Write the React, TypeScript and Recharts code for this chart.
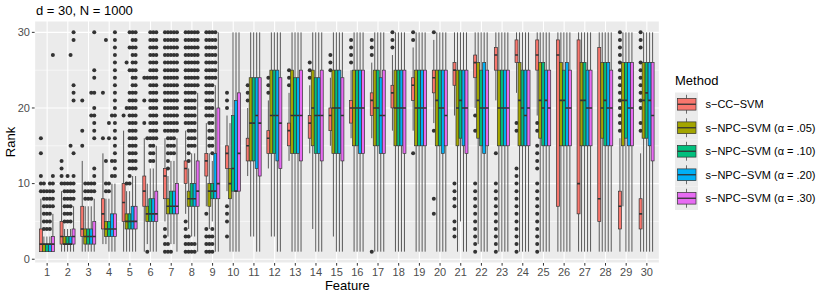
import React from "react";
import { Bar, CartesianGrid, ComposedChart, XAxis, YAxis } from "recharts";

const FEATURES = ["1","2","3","4","5","6","7","8","9","10","11","12","13","14","15","16","17","18","19","20","21","22","23","24","25","26","27","28","29","30"];
const METHODS = ["s−CC−SVM", "s−NPC−SVM (α = .05)", "s−NPC−SVM (α = .10)", "s−NPC−SVM (α = .20)", "s−NPC−SVM (α = .30)"];
const COLORS = ["#F8766D", "#A3A500", "#00BF7D", "#00B0F6", "#E76BF3"];
const FONT = "'Liberation Sans', Arial, sans-serif";

// [lower whisker, q1, median, q3, upper whisker] per feature
const CC_SVM = [
  [1,1,2,4,8],[1,2,3,5,9],[1,3,4,7,13],[2,4,6,8,14],[1,5,7.5,10,17],[1,7,9,11,16],
  [5,8,11,12,16],[6,10,12,13,17],[7,11,13,14,18],[9,12,14,15,19],[11,13,15,16,20],[12,14,16,17,21],
  [13,15,17,18,22],[14,16,18,19,23],[15,17,19,20,24],[16,18,20,21,25],[16,19,21,22,26],[17,20,22,23,27],
  [17,21,23,24,28],[18,22,24,25,29],[19,23,25,26,30],[20,24,26,27,30],[21,25,27,28,30],[22,26,27,29,30],
  [19,25,27,29,30],[1,7,27,29,30],[1,6,10,29,30],[1,5,8,28,30],[1,4,7,9,16],[1,4,6,8,14],
];
const NPC_05 = [
  [1,1,2,2,3],[1,2,2,3,4],[1,2,3,4,7],[2,3,4,5,8],[1,4,5,6,9],[2,5,6,7,10],
  [3,6,7,8,11],[4,7,8,9,12],[4,7,9,10,14],[1,8,10,12,18],[3,13,18,24,30],[3,14,19,25,30],
  [1,14,19,25,30],[4,15,20,25,30],[3,14,20,25,30],[1,15,20,25,30],[1,15,20,25,30],[1,15,20,25,30],
  [1,15,20,25,30],[1,15,21,25,30],[1,15,20,25,30],[2,16,21,26,30],[1,15,20,25,30],[1,15,21,26,30],
  [1,16,21,26,30],[1,15,21,26,30],[1,15,21,26,30],[1,16,20,26,30],[7,15,21,26,30],[1,16,21,26,30],
];
const NPC_10 = [
  [1,1,2,2,3],[1,2,2,3,4],[1,2,3,4,7],[1,3,4,5,8],[1,4,5,6,9],[1,5,6,8,12],
  [2,6,7,9,13],[3,7,8,10,14],[5,8,9,10,13],[1,9,12,19,30],[3,13,18,24,30],[3,14,19,25,30],
  [1,14,19,24,30],[1,14,19,24,30],[1,14,20,25,30],[1,15,20,25,30],[1,15,20,25,30],[1,15,20,25,30],
  [1,15,20,25,30],[1,15,20,25,30],[5,16,21,25,30],[1,15,20,25,30],[1,15,20,25,30],[1,15,20,25,30],
  [1,15,20,26,30],[1,15,21,25,30],[1,15,21,26,30],[1,15,21,26,30],[1,16,21,26,30],[1,16,22,26,30],
];
const NPC_20 = [
  [1,1,2,2,3],[1,2,2,3,4],[1,2,3,4,7],[1,3,4,6,10],[1,4,5,7,11],[1,5,6,8,12],
  [2,6,7,9,13],[3,7,8,10,14],[1,8,9,14,23],[1,9,9,21,30],[1,12,19,24,30],[1,13,19,25,30],
  [1,14,19,24,30],[1,14,19,24,30],[1,14,20,25,30],[1,14,20,25,30],[1,14,19,24,30],[1,15,20,25,30],
  [1,15,20,25,30],[1,14,20,25,30],[1,15,20,25,30],[1,14,20,26,30],[1,15,20,25,30],[1,15,19,25,30],
  [1,15,21,25,30],[1,15,20,26,30],[1,15,20,25,30],[1,15,20,26,30],[1,15,20,26,30],[1,15,21,26,30],
];
const NPC_30 = [
  [1,1,2,3,6],[1,2,3,4,7],[1,2,3,5,8],[1,3,4,6,10],[1,4,5,7,11],[1,5,6,9,15],
  [1,6,7,10,16],[1,7,9,13,22],[1,8,10,20,30],[1,9,14,22,30],[1,11,18,24,30],[1,12,18,24,30],
  [1,13,19,25,30],[1,13,19,25,30],[1,13,19,24,30],[1,14,20,25,30],[1,14,19,25,30],[1,14,20,25,30],
  [1,15,20,25,30],[1,15,19,25,30],[1,14,20,25,30],[1,15,20,25,30],[1,15,20,25,30],[1,15,20,25,30],
  [1,15,20,25,30],[1,15,20,25,30],[1,15,20,25,30],[1,15,20,25,30],[1,15,20,26,30],[1,13,19,26,30],
];

// outlying ranks per feature
const CC_SVM_OUT = [
  [9,10,11,14,16],[10,11,12,13],[15,17,21],[16,22],[19],[18,21,24],
  [1,2,3,4,17,18,19,20,21,22,23,24,25,26,27,28,29,30],
  [1,2,3,4,5,18,19,20,21,22,23,24,25,26,27,28,29,30],
  [1,2,3,4,6,19,20,21,22,23,24,25,26,27,28,29,30],
  [3,5,6,7,20,21,22],[21,22,23],[22,23,24],[23,24,25],[24,25,26],[25,26,27],[26,27,28,29],
  [1,27,28,29],[28,29,30],[14,29,30],[6,8,17,30],[3,4,5,7,8,9,10],
  [1,2,3,4,5,6,7,8,9,10,17,19],[1,2,3,4,5,6,7,8,9,10,14],
  [1,2,3,4,5,6,7,8,9,10,11,12,17,18],[1,2,3,4,5,6,7,8,9,10,12,13,14,15,17,18],
  [],[],[],
  [17,18,19,20,21,22,23,24,25,26,27,28,29,30],[17,18,20,21,22,23,24,25,26,28,29,30],
];
const NPC_05_OUT = [
  [4,5,6,7,8,9,10],[5,6,7,8,9,10],[8,9,10],[9,10,13,29],[10,20,26],[1,16,24],
  [1,2,12,13,14,15,16,17,18,19,20,21,22,23,24,25,26,27,28,29,30],
  [1,2,3,13,14,15,16,17,18,19,20,21,22,23,24,25,26,27,28,29,30],
  [1,2,3,15,16,17,18,19,20,21,22,23,24,25,26,27,28,29,30],
  [],[],[],[],[],[],[],[],[],[],[],[],[],[],[],[],[],[],[],[],[],
];
const NPC_10_OUT = [
  [4,5,6,7,8,9],[5,6,7,8,9,10,11],[8,9,10],[9,10,16,18],
  [10,11,12,13,14,15,16,17,18,19,20,21,22,25,28,30],
  [13,14,15,16,17,18,19,20,21,22,23,24,25,26,27,28,29,30],
  [1,14,15,16,17,18,19,20,21,22,23,24,25,26,27,28,29,30],
  [1,2,15,16,17,18,19,20,21,22,23,24,25,26,27,28,29,30],
  [1,2,3,4,14,15,16,17,18,19,20,21,22,23,24,25,26,27,28,29,30],
  [],[],[],[],[],[],[],[],[],[],[],[],[],[],[],[],[],[],[],[],[],
];
const NPC_20_OUT = [
  [4,5,6,7,8,9,10],[5,6,7,8,9,10,15,27],[8,9,10,19,22],[11,13,19],
  [12,13,14,15,16,17,18,19,20,21,22,23,24,25,26,27,28,29,30],
  [13,14,15,16,17,18,19,20,21,22,23,24,25,26,27,28,29,30],
  [14,15,16,17,18,19,20,21,22,23,24,25,26,27,28,29,30],
  [1,2,15,16,17,18,19,20,21,22,23,24,25,26,27,28,29,30],
  [24,25,26,27,28,29,30],
  [],[],[],[],[],[],[],[],[],[],[],[],[],[],[],[],[],[],[],[],[],
];
const NPC_30_OUT = [
  [7,8,9,10,11,27],[8,9,10,11,14,21,22,23,29,30],[9,10,11,12,16,17,18,19,20,22,24,25,30],
  [11,12,13,14,15,16,17,18,19,20,21,22,23,24,25,26,27,28,29,30],
  [12,13,14,15,16,17,18,19,20,21,22,23,24,25,26,27,28,29,30],
  [16,17,18,19,20,21,22,23,24,25,26,27,28,29,30],
  [17,18,19,20,21,22,23,24,25,26,27,28,29,30],
  [23,24,25,26,27,28,29,30],
  [],[],[],[],[],[],[],[],[],[],[],[],[],[],[],[],[],[],[],[],[],[],
];

const STATS = [CC_SVM, NPC_05, NPC_10, NPC_20, NPC_30];
const OUTS = [CC_SVM_OUT, NPC_05_OUT, NPC_10_OUT, NPC_20_OUT, NPC_30_OUT];

const rows = FEATURES.map((f, i) => {
  const row: Record<string, unknown> = { feature: f };
  STATS.forEach((s, m) => {
    row[`r${m}`] = [s[i][0], s[i][4]];
    row[`s${m}`] = s[i];
    row[`o${m}`] = OUTS[m][i] ?? [];
  });
  return row;
});

const INK = "#333333";

// the bar spans the whiskers; box, median and outliers are placed on the same linear scale
function boxShape(m: number) {
  return (p: any) => {
    const [lo, q1, med, q3, hi] = p.payload[`s${m}`] as number[];
    const out = p.payload[`o${m}`] as number[];
    const top = Math.min(p.y, p.y + p.height);
    const h = Math.abs(p.height);
    const py = (v: number) => top + (h * (hi - v)) / (hi - lo);
    const cx = p.x + p.width / 2;
    return (
      <g>
        {out.map((v, k) => (
          <circle key={k} cx={cx} cy={py(v)} r={2} fill={INK} />
        ))}
        <line x1={cx} x2={cx} y1={py(hi)} y2={py(q3)} stroke={INK} strokeWidth={0.8} />
        <line x1={cx} x2={cx} y1={py(q1)} y2={py(lo)} stroke={INK} strokeWidth={0.8} />
        <rect x={p.x} y={py(q3)} width={p.width} height={py(q1) - py(q3)} fill={COLORS[m]} stroke={INK} strokeWidth={0.7} />
        <line x1={p.x} x2={p.x + p.width} y1={py(med)} y2={py(med)} stroke={INK} strokeWidth={1.6} />
      </g>
    );
  };
}

const tickStyle = { fill: "#4D4D4D", fontSize: 11, fontFamily: FONT };

export default function App() {
  const keyTop = 92.5;
  const keyH = 23.5;
  return (
    <div style={{ position: "absolute", left: 0, top: 0, width: 830, height: 297, background: "#fff" }}>
      <ComposedChart
        width={830}
        height={297}
        data={rows}
        margin={{ top: 21, right: 170.6, bottom: 14, left: 0 }}
        barCategoryGap="12.5%"
        barGap={0}
      >
        <CartesianGrid fill="#EBEBEB" stroke="#ffffff" strokeWidth={0.55} vertical={false} horizontalValues={[5, 15, 25]} />
        <CartesianGrid stroke="#ffffff" strokeWidth={1.1} />
        <XAxis
          dataKey="feature"
          type="category"
          interval={0}
          height={20}
          padding={{ left: 2.2, right: 2.2 }}
          axisLine={false}
          tickLine={{ stroke: INK }}
          tickSize={2.7}
          tickMargin={2}
          tick={tickStyle}
        />
        <YAxis
          type="number"
          domain={[-0.5, 31.5]}
          ticks={[0, 10, 20, 30]}
          allowDataOverflow
          width={34.6}
          axisLine={false}
          tickLine={{ stroke: INK }}
          tickSize={2.7}
          tickMargin={2}
          tick={tickStyle}
        />
        {METHODS.map((name, m) => (
          <Bar key={name} name={name} dataKey={`r${m}`} fill={COLORS[m]} shape={boxShape(m)} isAnimationActive={false} />
        ))}
      </ComposedChart>
      <svg width={830} height={297} style={{ position: "absolute", left: 0, top: 0, pointerEvents: "none" }} fontFamily={FONT}>
        <text x={36} y={15} fontSize={13} fill="#000">d = 30, N = 1000</text>
        <text transform="translate(15,142) rotate(-90)" textAnchor="middle" fontSize={13} fill="#000">Rank</text>
        <text x={347.3} y={290} textAnchor="middle" fontSize={13} fill="#000">Feature</text>
        <text x={675} y={85} fontSize={13} fill="#000">Method</text>
        {METHODS.map((name, m) => {
          const y0 = keyTop + m * keyH;
          const cy = y0 + keyH / 2;
          return (
            <g key={name}>
              <rect x={675} y={y0} width={23} height={keyH} fill="#EBEBEB" />
              <line x1={686.5} x2={686.5} y1={y0 + 2.3} y2={y0 + 5.9} stroke={INK} strokeWidth={0.7} />
              <line x1={686.5} x2={686.5} y1={y0 + keyH - 5.9} y2={y0 + keyH - 2.3} stroke={INK} strokeWidth={0.7} />
              <rect x={677.5} y={y0 + 5.9} width={18.5} height={keyH - 11.8} fill={COLORS[m]} stroke={INK} strokeWidth={0.7} />
              <line x1={677.5} x2={696} y1={cy} y2={cy} stroke={INK} strokeWidth={1.3} />
              <text x={705.5} y={cy + 4} fontSize={11} fill="#000">{name}</text>
            </g>
          );
        })}
      </svg>
    </div>
  );
}
